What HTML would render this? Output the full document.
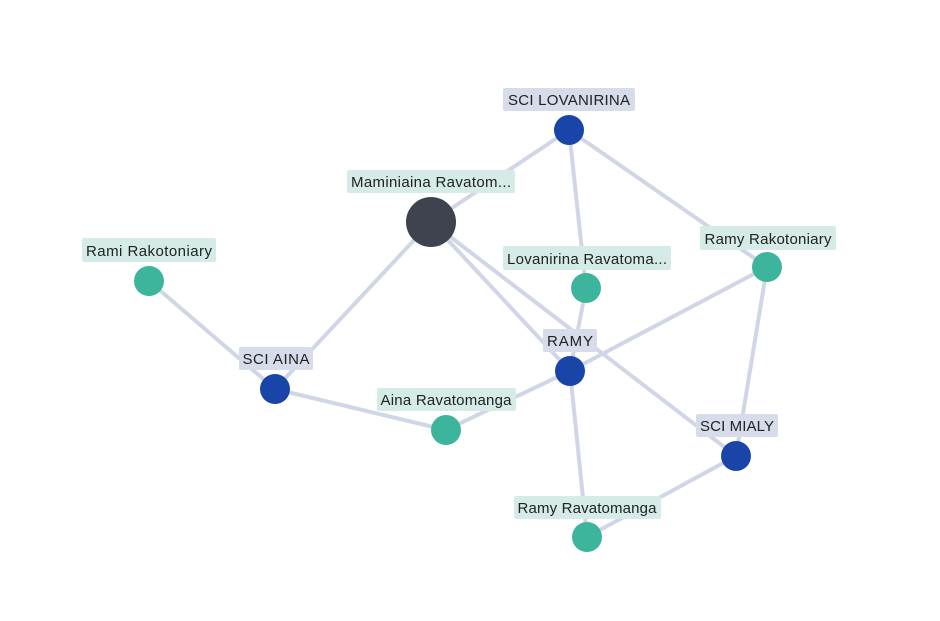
<!DOCTYPE html>
<html><head><style>body{margin:0;background:#fff}</style></head><body>
<svg width="940" height="616" xmlns="http://www.w3.org/2000/svg" font-family="Liberation Sans, sans-serif" font-size="15">
<g stroke="#d0d6e6" stroke-width="4" stroke-linecap="round">
<line x1="569" y1="130" x2="431" y2="222"/>
<line x1="569" y1="130" x2="586" y2="288"/>
<line x1="569" y1="130" x2="767" y2="267"/>
<line x1="431" y1="222" x2="275" y2="389"/>
<line x1="431" y1="222" x2="570" y2="371"/>
<line x1="431" y1="222" x2="736" y2="456"/>
<line x1="149" y1="281" x2="275" y2="389"/>
<line x1="275" y1="389" x2="446" y2="430"/>
<line x1="446" y1="430" x2="570" y2="371"/>
<line x1="570" y1="371" x2="767" y2="267"/>
<line x1="586" y1="288" x2="570" y2="371"/>
<line x1="570" y1="371" x2="587" y2="537"/>
<line x1="767" y1="267" x2="736" y2="456"/>
<line x1="736" y1="456" x2="587" y2="537"/>
</g>
<g fill="#d6dcea">
<rect x="503" y="88" width="132" height="23" rx="2"/>
<rect x="239" y="347" width="74" height="23" rx="2"/>
<rect x="543" y="329" width="54" height="23" rx="2"/>
<rect x="696" y="414" width="82" height="23" rx="2"/>
</g>
<g fill="#d5ebe7">
<rect x="347" y="170" width="168" height="23" rx="2"/>
<rect x="82" y="238" width="134" height="24" rx="2"/>
<rect x="503" y="246" width="168" height="24" rx="2"/>
<rect x="700" y="226" width="136" height="24" rx="2"/>
<rect x="377" y="388" width="139" height="23" rx="2"/>
<rect x="514" y="496" width="147" height="23" rx="2"/>
</g>
<g fill="#222" text-anchor="middle">
<text x="569" y="105" textLength="122">SCI LOVANIRINA</text>
<text x="431" y="187" textLength="160">Maminiaina Ravatom...</text>
<text x="149" y="256" textLength="126">Rami Rakotoniary</text>
<text x="587" y="264" textLength="160">Lovanirina Ravatoma...</text>
<text x="768" y="244" textLength="127">Ramy Rakotoniary</text>
<text x="570" y="346" textLength="46">RAMY</text>
<text x="276" y="364" textLength="67">SCI AINA</text>
<text x="446" y="405" textLength="131">Aina Ravatomanga</text>
<text x="737" y="431" textLength="74">SCI MIALY</text>
<text x="587" y="513" textLength="139">Ramy Ravatomanga</text>
</g>
<g fill="#1a45a8">
<circle cx="569" cy="130" r="15"/>
<circle cx="275" cy="389" r="15"/>
<circle cx="570" cy="371" r="15"/>
<circle cx="736" cy="456" r="15"/>
</g>
<circle cx="431" cy="222" r="25" fill="#3f4350"/>
<g fill="#3db59d">
<circle cx="149" cy="281" r="15"/>
<circle cx="586" cy="288" r="15"/>
<circle cx="767" cy="267" r="15"/>
<circle cx="446" cy="430" r="15"/>
<circle cx="587" cy="537" r="15"/>
</g>
</svg>
</body></html>
